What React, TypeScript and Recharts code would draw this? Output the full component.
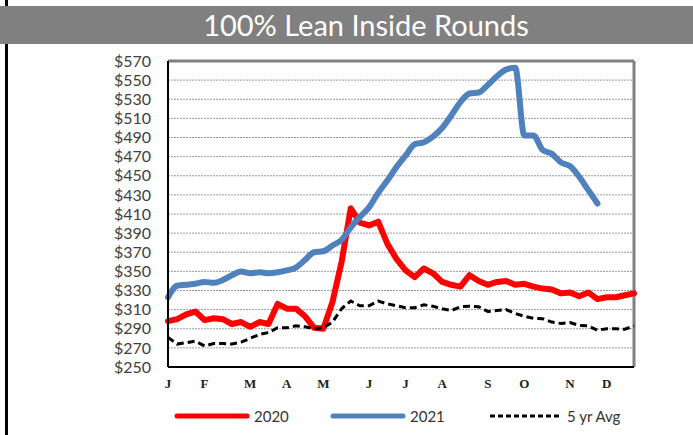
import { LineChart, Line, XAxis, YAxis, CartesianGrid, ReferenceLine } from 'recharts';

// weekly index 0..51, month letters at the first week of each month
const monthTicks = [0, 4, 9, 13, 17, 22, 26, 30, 35, 39, 44, 48];
const monthLabels = ['J', 'F', 'M', 'A', 'M', 'J', 'J', 'A', 'S', 'O', 'N', 'D'];

const yTicks = [250, 270, 290, 310, 330, 350, 370, 390, 410, 430, 450, 470, 490, 510, 530, 550, 570];

const price2020 = [
  298, 300, 305, 308, 299, 301, 300, 295, 297, 292, 297, 295, 316,
  311, 311, 303, 291, 290, 318, 360, 416, 401, 398, 402, 379, 363,
  351, 344, 353, 348, 339, 336, 334, 346, 340, 336, 339, 340, 336,
  337, 334, 332, 331, 327, 328, 324, 328, 321, 323, 323, 325, 327,
];

const price2021 = [
  323, 335, 336, 337, 339, 338, 341, 346, 350, 348, 349, 348, 349,
  351, 354, 362, 370, 371, 377, 383, 396, 407, 417, 432, 445, 459,
  471, 483, 485, 491, 500, 513, 527, 536, 537, 545, 554, 561, 563,
  492, 492, 477, 473, 464, 460, 449, 435, 421, null, null, null, null,
];

const avg5yr = [
  281, 274, 275.5, 277, 272, 274.5, 274.5, 274, 276, 280, 284, 286, 291,
  291, 293, 292, 290, 291, 297, 311, 319, 314, 314, 319, 316, 314,
  312, 312, 315, 313.5, 311, 309, 313, 313.5, 313, 308, 309, 310, 306,
  303, 301, 300.5, 297, 295.5, 296.5, 293.5, 293, 288.5, 290, 290, 289.5, 293,
];

const data = price2020.map((v, i) => ({
  week: i,
  y2020: v,
  y2021: price2021[i],
  avg: avg5yr[i],
}));

const labelFont = 'Lato, "Open Sans", sans-serif';

const LegendItem = ({ color, dash, width, text }: { color: string; dash?: string; width: number; text: string }) => (
  <div style={{ display: 'flex', alignItems: 'center' }}>
    <svg width={76} height={10}>
      <line x1={3} y1={5} x2={73} y2={5} stroke={color} strokeWidth={width} strokeDasharray={dash} strokeLinecap={dash ? 'butt' : 'round'} />
    </svg>
    <span style={{ marginLeft: 4, fontSize: 15, color: '#333', fontFamily: labelFont }}>{text}</span>
  </div>
);

export default function App() {
  return (
    <div style={{ position: 'absolute', left: 0, top: 0, width: 693, height: 435, background: '#fff', overflow: 'hidden' }}>
      <div style={{ position: 'absolute', left: 5, top: 0, width: 3, height: 435, background: '#000' }} />
      <div style={{ position: 'absolute', left: 0, top: 6, width: 693, height: 38, background: '#808080' }}>
        <div style={{ position: 'absolute', left: 0, width: 732, top: 0, height: 38, lineHeight: '38px', textAlign: 'center', color: '#fff', fontSize: 29, fontFamily: labelFont }}>
          100% Lean Inside Rounds
        </div>
      </div>
      <div style={{ position: 'absolute', left: 0, top: 0 }}>
        <LineChart width={693} height={435} data={data} margin={{ top: 61, right: 59, left: 0, bottom: 48 }}>
          <CartesianGrid vertical={false} stroke="#9a9a9a" strokeDasharray="2 1" />
          <XAxis
            dataKey="week"
            type="number"
            domain={[0, 51]}
            ticks={monthTicks}
            tickFormatter={(v: number) => monthLabels[monthTicks.indexOf(v)]}
            height={20}
            tickLine={false}
            tickSize={0}
            tickMargin={12}
            axisLine={{ stroke: '#000', strokeWidth: 2 }}
            tick={{ fill: '#222', fontSize: 13, fontWeight: 'bold', fontFamily: '"Liberation Serif", serif' }}
          />
          <YAxis
            type="number"
            domain={[250, 570]}
            ticks={yTicks}
            interval={0}
            width={168}
            tickLine={false}
            tickSize={0}
            tickMargin={17}
            tickFormatter={(v: number) => `$${v}`}
            axisLine={{ stroke: '#000', strokeWidth: 2 }}
            tick={{ fill: '#404040', fontSize: 16, fontFamily: labelFont }}
          />
          <ReferenceLine y={570} stroke="#808080" strokeWidth={3} />
          <ReferenceLine x={51} stroke="#808080" strokeWidth={3} />
          <Line dataKey="y2020" type="linear" stroke="#ff0000" strokeWidth={6} dot={false} strokeLinecap="round" strokeLinejoin="round" isAnimationActive={false} />
          <Line dataKey="y2021" type="monotone" stroke="#4f81bd" strokeWidth={6} dot={false} strokeLinecap="round" strokeLinejoin="round" isAnimationActive={false} />
          <Line dataKey="avg" type="linear" stroke="#000" strokeWidth={3} strokeDasharray="7 4" dot={false} isAnimationActive={false} />
        </LineChart>
      </div>
      <div style={{ position: 'absolute', top: 407, left: 174 }}><LegendItem color="#ff0000" width={5} text="2020" /></div>
      <div style={{ position: 'absolute', top: 407, left: 330 }}><LegendItem color="#4f81bd" width={5} text="2021" /></div>
      <div style={{ position: 'absolute', top: 407, left: 487 }}><LegendItem color="#000" width={3} dash="5 3" text="5 yr Avg" /></div>
    </div>
  );
}
